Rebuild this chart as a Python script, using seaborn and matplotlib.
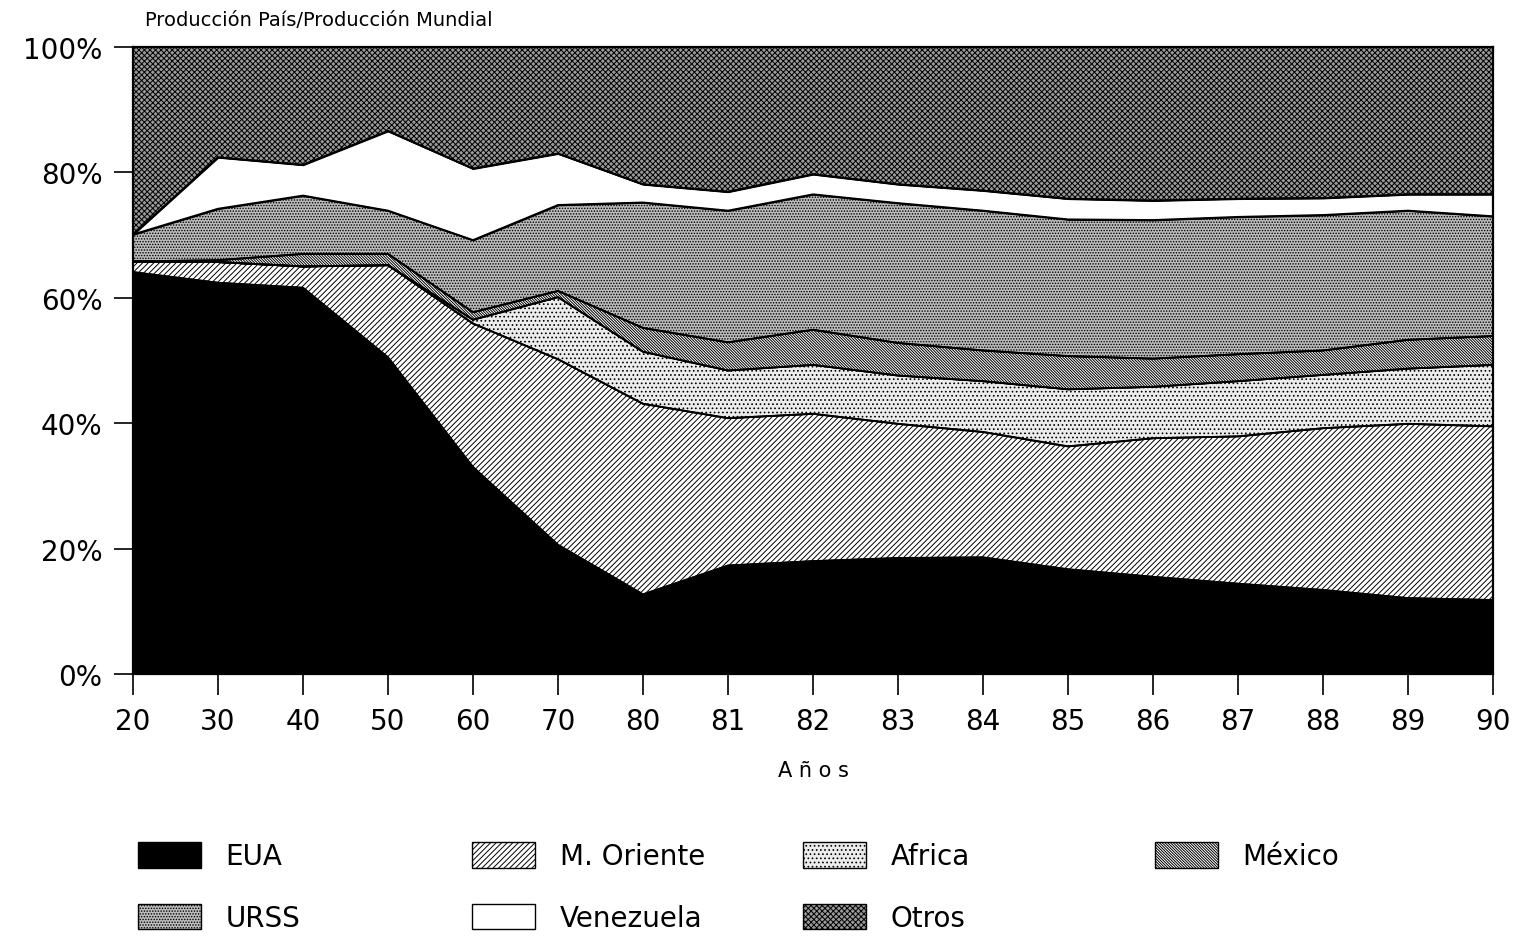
import matplotlib
matplotlib.use("Agg")
import numpy as np
import pandas as pd
import seaborn as sns
import matplotlib.pyplot as plt
from matplotlib.patches import Patch

# ---------------- data (shares of world production, %) ----------------
years = ["20", "30", "40", "50", "60", "70", "80", "81", "82", "83",
         "84", "85", "86", "87", "88", "89", "90"]
eua       = [64.1, 62.4, 61.6, 50.5, 33.0, 20.6, 12.7, 17.3, 18.0, 18.5, 18.6, 16.7, 15.5, 14.4, 13.4, 12.1, 11.8]
m_oriente = [1.7, 3.3, 3.4, 14.7, 22.9, 29.6, 30.4, 23.5, 23.5, 21.4, 20.0, 19.6, 22.1, 23.5, 25.8, 27.8, 27.7]
africa    = [0.0, 0.0, 0.0, 0.0, 0.6, 9.9, 8.3, 7.6, 7.8, 7.7, 8.1, 9.1, 8.2, 8.8, 8.5, 8.8, 9.8]
mexico    = [0.0, 0.3, 2.0, 1.8, 1.2, 1.0, 3.8, 4.5, 5.6, 5.2, 4.9, 5.3, 4.5, 4.3, 3.9, 4.6, 4.6]
urss      = [4.3, 8.2, 9.3, 6.9, 11.5, 13.7, 20.0, 21.0, 21.6, 22.3, 22.3, 21.8, 22.1, 21.9, 21.6, 20.6, 19.1]
venezuela = [0.0, 8.2, 4.9, 12.7, 11.4, 8.2, 2.9, 3.0, 3.2, 3.0, 3.2, 3.3, 3.1, 2.9, 2.7, 2.6, 3.5]
otros     = [29.9, 17.6, 18.8, 13.4, 19.4, 17.0, 21.9, 23.1, 20.3, 21.9, 22.9, 24.2, 24.5, 24.2, 24.1, 23.5, 23.5]

names = ["EUA", "M. Oriente", "Africa", "México", "URSS", "Venezuela", "Otros"]
y_ticks = [0, 20, 40, 60, 80, 100]
y_labels = ["0%", "20%", "40%", "60%", "80%", "100%"]

# ---------------- style ----------------
sns.set_theme(style="white")
plt.rcParams["font.family"] = ["DejaVu Sans"]
plt.rcParams["hatch.linewidth"] = 0.7
plt.rcParams["text.color"] = "black"
plt.rcParams["axes.labelcolor"] = "black"
plt.rcParams["xtick.color"] = "black"
plt.rcParams["ytick.color"] = "black"

styles = {
    "EUA":        dict(fc="black",   hatch=None),
    "M. Oriente": dict(fc="white",   hatch="//////"),
    "Africa":     dict(fc="#ececec", hatch="...."),
    "México":     dict(fc="white",   hatch="\\" * 12),
    "URSS":       dict(fc="#bcbcbc", hatch="......"),
    "Venezuela":  dict(fc="white",   hatch=None),
    "Otros":      dict(fc="#9a9a9a", hatch="xxxxxx"),
}

fig = plt.figure(figsize=(15.26, 9.37), dpi=100)
ax = fig.add_axes([133 / 1526, 1 - 675 / 937, (1493 - 133) / 1526, (675 - 48) / 937])

x = np.arange(len(years))
series = [eua, m_oriente, africa, mexico, urss, venezuela, otros]
polys = ax.stackplot(x, *series, edgecolor="black", linewidth=1.2)
for poly, name in zip(polys, names):
    st = styles[name]
    poly.set_facecolor(st["fc"])
    if st["hatch"]:
        poly.set_hatch(st["hatch"])

# boundary lines drawn with seaborn
cum = np.cumsum(np.array(series), axis=0)
rows = []
for i, name in enumerate(names[:-1]):
    for xi, v in zip(x, cum[i]):
        rows.append({"x": xi, "y": v, "layer": name})
df = pd.DataFrame(rows)
sns.lineplot(data=df, x="x", y="y", units="layer", estimator=None,
             color="black", linewidth=1.4, ax=ax, legend=False)

ax.set_xlim(0, len(years) - 1)
ax.set_ylim(0, 100)
ax.set_xticks(x)
ax.set_xticklabels(years, fontsize=20)
ax.set_yticks(y_ticks)
ax.set_yticklabels(y_labels, fontsize=20)
ax.set_xlabel("A ñ o s", fontsize=15, labelpad=18)
ax.set_ylabel("")
ax.tick_params(axis="x", which="major", direction="out", length=15,
               width=1.2, color="black", bottom=True, pad=9)
ax.tick_params(axis="y", which="major", direction="out", length=14,
               width=1.2, color="black", left=True, pad=8)
for sp in ax.spines.values():
    sp.set_color("black")
    sp.set_linewidth(1.6)

fig.text(145 / 1526, 1 - 20 / 937, "Producción País/Producción Mundial",
         fontsize=14, ha="left", va="center")

# ---------------- legend (4 columns, 2 rows) ----------------
col_x = [138, 472, 803, 1155]
col_items = [["EUA", "URSS"], ["M. Oriente", "Venezuela"], ["Africa", "Otros"], ["México"]]
for cx, items in zip(col_x, col_items):
    handles = []
    for n in items:
        st = styles[n]
        handles.append(Patch(facecolor=st["fc"], edgecolor="black",
                             hatch=st["hatch"], linewidth=1.0))
    leg = fig.legend(handles, items, loc="upper left",
                     bbox_to_anchor=(cx / 1526, 1 - 843 / 937),
                     frameon=False, fontsize=20, handlelength=2.25,
                     handleheight=1.05, handletextpad=0.9,
                     labelspacing=1.2, borderpad=0, borderaxespad=0)

fig.savefig("out.png", dpi=100)
